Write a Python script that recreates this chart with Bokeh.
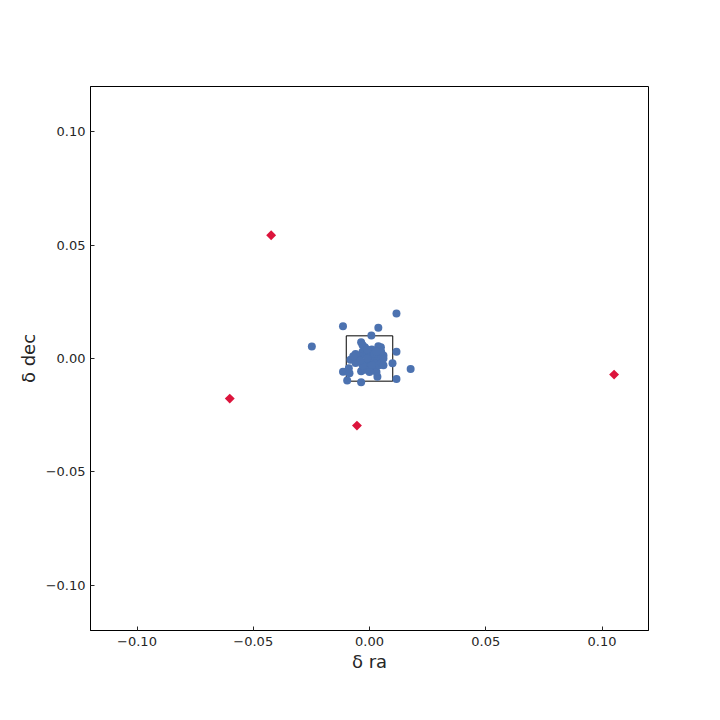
import math
from bokeh.plotting import figure
from bokeh.models import FixedTicker, CustomJSTickFormatter, Range1d
from bokeh.embed import file_html
from bokeh.resources import INLINE

# ---- data ----
ra_blue = [0.0116, -0.0114, 0.0038, 0.0008, -0.0248, 0.0116, 0.0177, 0.0116, 0.0099,
           -0.0114, -0.0089, -0.0086, -0.0096, -0.0036, 0.0038, 0.0049, 0.0060, 0.0034,
           -0.0036, -0.0082, -0.0036,
           -0.001, 0.000, 0.001, -0.002, 0.002, -0.003, 0.003, -0.004, 0.004, -0.001,
           0.001, -0.002, -0.003, 0.002, 0.003, 0.004, 0.005, -0.005, -0.006, -0.006,
           0.006, 0.005, -0.002, -0.003, 0.000, 0.001, -0.001, 0.002, 0.006, -0.004,
           0.003, -0.007, 0.000, -0.001]
dec_blue = [0.0198, 0.0142, 0.0136, 0.0102, 0.0053, 0.0030, -0.0046, -0.0090, -0.0021,
            -0.0058, -0.0043, -0.0065, -0.0097, -0.0105, 0.0054, 0.0050, 0.0013, -0.0080,
            0.0072, -0.0006, -0.0056,
            0.001, -0.001, 0.002, -0.002, 0.000, 0.003, -0.002, 0.001, 0.001, -0.004,
            0.004, 0.005, 0.006, -0.004, -0.006, -0.003, -0.002, 0.000, -0.002, 0.002,
            0.000, 0.003, -0.005, -0.003, 0.003, -0.003, 0.000, 0.002, -0.003, -0.001,
            0.003, 0.001, -0.006, 0.004]
ra_red = [-0.0423, -0.0601, -0.0054, 0.1052]
dec_red = [0.0544, -0.0177, -0.0296, -0.0071]
box_half = 0.01
ticks = [-0.10, -0.05, 0.0, 0.05, 0.10]
lim = 0.12

p = figure(width=704, height=704, output_backend="svg", toolbar_location=None,
           x_range=Range1d(-lim, lim), y_range=Range1d(-lim, lim),
           min_border_left=90, min_border_right=56, min_border_top=86, min_border_bottom=74,
           frame_width=558, frame_height=544)
p.grid.visible = False
p.outline_line_color = "black"
p.outline_line_width = 1
p.background_fill_color = "white"
p.border_fill_color = "white"

p.quad(left=[-box_half], right=[box_half], bottom=[-box_half], top=[box_half],
       fill_alpha=0, line_color="black", line_width=1)
p.scatter(ra_blue, dec_blue, marker="circle", size=8, fill_color="#4c72b0",
          line_color="#4c72b0", line_width=0)
p.scatter(ra_red, dec_red, marker="square", size=7, angle=math.pi / 4,
          fill_color="#dc143c", line_color="#dc143c", line_width=0)

fmt = CustomJSTickFormatter(code="return tick.toFixed(2).replace('-', '\\u2212');")
for ax in (p.xaxis[0], p.yaxis[0]):
    ax.ticker = FixedTicker(ticks=ticks)
    ax.formatter = fmt
    ax.minor_tick_line_color = None
    ax.major_tick_in = 4
    ax.major_tick_out = 0
    ax.major_tick_line_color = "#262626"
    ax.axis_line_color = "black"
    ax.major_label_text_font = "DejaVu Sans"
    ax.major_label_text_font_size = "13px"
    ax.major_label_text_color = "#262626"
    ax.axis_label_text_font = "DejaVu Sans"
    ax.axis_label_text_font_size = "18px"
    ax.axis_label_text_font_style = "normal"
    ax.axis_label_text_color = "#262626"

p.xaxis[0].major_label_standoff = 6
p.yaxis[0].major_label_standoff = 5
p.xaxis[0].axis_label = "δ ra"
p.yaxis[0].axis_label = "δ dec"
p.xaxis[0].axis_label_standoff = 2
p.yaxis[0].axis_label_standoff = 4

open("out.html", "w").write(file_html(p, INLINE))
